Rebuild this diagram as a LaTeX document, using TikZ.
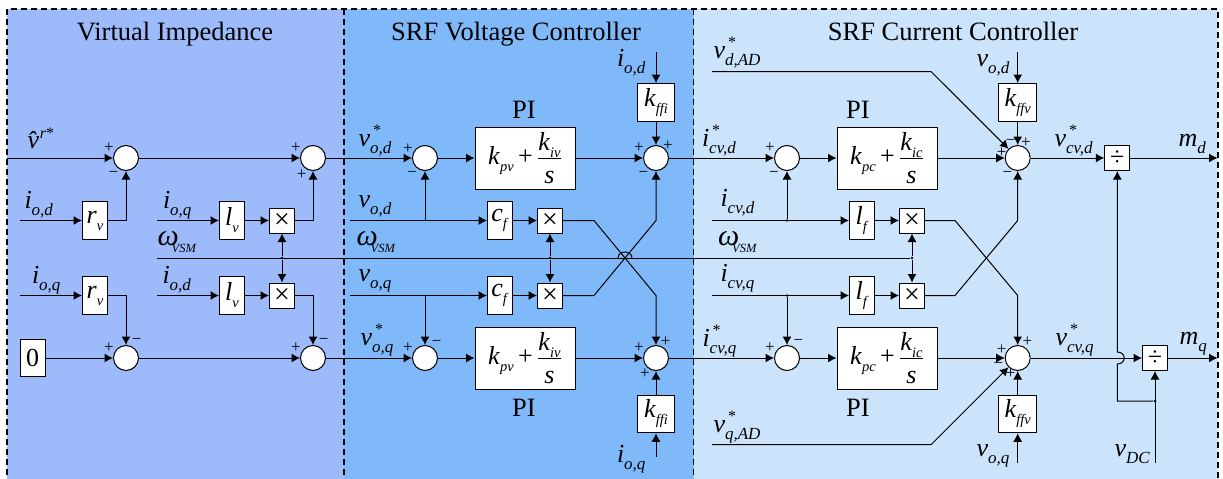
\documentclass[tikz,border=0pt]{standalone}
\usepackage{fontspec}
\setmainfont{Liberation Serif}
\usetikzlibrary{arrows.meta, positioning}
\definecolor{panelvi}{RGB}{157,187,250}
\definecolor{panelvc}{RGB}{128,185,250}
\definecolor{panelcc}{RGB}{204,227,252}
\newcommand{\subs}[1]{\raisebox{-7pt}{\fontsize{17}{17}\selectfont\textit{#1}}}
\newcommand{\subm}[1]{\raisebox{-7pt}{\fontsize{14.5}{14.5}\selectfont\textit{#1}}}
\newcommand{\symb}[2]{\textit{#1}\subs{#2}}
\newcommand{\symbst}[2]{\textit{#1}\makebox[0pt][l]{\hspace{3pt}\raisebox{11pt}{\fontsize{16}{16}\selectfont *}}\subs{#2}}
\newcommand{\omvsm}{{\fontsize{30}{30}\selectfont\textit{ω}}\hspace{-7pt}\raisebox{-7pt}{\fontsize{12.5}{12.5}\selectfont\textit{VSM}}}
\newcommand{\pifrac}[2]{\textit{k}\subm{#1}\,+\,$\frac{\hbox{\rule[-3pt]{0pt}{3pt}\textit{k}\subm{#2}}}{\hbox{\rule{0pt}{24pt}\textit{s}}}$}
\tikzset{
	sumnode/.style={circle, draw, fill=white, minimum size=25pt, inner sep=0pt}, %summing junctions
	gainbox/.style={rectangle, draw, fill=white, minimum width=25pt, minimum height=37.5pt, inner sep=0pt, font=\fontsize{26}{26}\selectfont},
	mulbox/.style={rectangle, draw, fill=white, minimum size=25pt, inner sep=0pt, font=\fontsize{28}{28}\selectfont},
	kbox/.style={gainbox, minimum width=37.5pt},
	pibox/.style={rectangle, draw, fill=white, minimum width=100pt, minimum height=62pt, inner sep=0pt, font=\fontsize{26}{26}\selectfont},
	lab/.style={anchor=base west, inner sep=0pt, font=\fontsize{26}{26}\selectfont},
	titlelab/.style={anchor=base, inner sep=0pt, font=\fontsize{26.5}{26.5}\selectfont},
	signlab/.style={inner sep=0pt, font=\fontsize{17}{17}\selectfont},
	dotnode/.style={circle, fill=black, minimum size=2.6pt, inner sep=0pt},
	panel/.style={draw=black, line width=1.3pt, dash pattern=on 6pt off 4pt},
}
\begin{document}
\begin{tikzpicture}[->,>={Latex[length=8.5pt,width=9pt]},x=1pt,y=-1pt,line width=1pt,node distance=50pt]
	\useasboundingbox (0,0) rectangle (1223,479);
	% panels
	\fill[white] (0,0) rectangle (1223,479);
	\fill[panelvi] (7,9) rectangle (344,485);
	\fill[panelvc] (344,9) rectangle (693.5,485);
	\fill[panelcc] (693.5,9) rectangle (1218,485);
	\draw[panel,-] (7,485) -- (7,9) -- (1218,9) -- (1218,485);
	\draw[panel,-] (344,9) -- (344,485);
	\draw[panel,-] (693.5,9) -- (693.5,485);
	\node[titlelab] (tvi) at (175,40) {Virtual Impedance};
	\node[titlelab] (tvc) at (516,40) {SRF Voltage Controller};
	\node[titlelab] (tcc) at (953,40) {SRF Current Controller};

	% virtual impedance
	\coordinate (vrin) at (7,158);
	\node[sumnode] (sia) at (126,158) {};
	\node[sumnode] (sib) [right of=sia, node distance=187pt] {};
	\node[sumnode] (sic) at (126,358) {};
	\node[sumnode] (sid) [right of=sic, node distance=187pt] {};
	\node[gainbox] (rvd) at (95,220.5) {\textit{r}\subm{v}};
	\node[gainbox] (lvd) [right of=rvd, node distance=137pt] {\textit{l}\subm{v}};
	\node[mulbox] (mvd) [right of=lvd] {×};
	\node[gainbox] (rvq) at (95,295.5) {\textit{r}\subm{v}};
	\node[gainbox] (lvq) [right of=rvq, node distance=137pt] {\textit{l}\subm{v}};
	\node[mulbox] (mvq) [right of=lvq] {×};
	\node[gainbox] (zero) at (32.5,358) {0};
	\coordinate (iaa) at (20,220.5);
	\coordinate (iab) at (157,220.5);
	\coordinate (iac) at (20,295.5);
	\coordinate (iad) at (157,295.5);
	\node[lab] (tvr) at (27,148) {\textit{\^v}\hspace{-9pt}\raisebox{10pt}{\fontsize{16}{16}\selectfont\textit{r}*}};
	\node[lab] (tia) at (24,208) {\symb{i}{o,d}};
	\node[lab] (tib) at (162.5,208) {\symb{i}{o,q}};
	\node[lab] (tic) at (31.5,283) {\symb{i}{o,q}};
	\node[lab] (tid) at (162,283) {\symb{i}{o,d}};
	\node[lab] (twa) at (157,245) {\omvsm};

	% voltage controller
	\node[sumnode] (sva) at (425,158) {};
	\node[pibox] (piv) at (525,158) {\pifrac{pv}{iv}};
	\node[sumnode] (svb) at (656,158) {};
	\node[kbox] (kfa) at (656,102.3) {\textit{k}\subm{ffi}};
	\node[gainbox] (cfd) at (500,220.5) {\textit{c}\subm{f}};
	\node[mulbox] (mcd) [right of=cfd] {×};
	\node[gainbox] (cfq) at (500,295.5) {\textit{c}\subm{f}};
	\node[mulbox] (mcq) [right of=cfq] {×};
	\node[sumnode] (svc) at (425,358) {};
	\node[pibox] (pivq) at (525,358) {\pifrac{pv}{iv}};
	\node[sumnode] (svd) at (656,358) {};
	\node[kbox] (kfb) at (656,414) {\textit{k}\subm{ffi}};
	\coordinate (iva) at (350,220.5);
	\coordinate (ivb) at (350,295.5);
	\coordinate (jva) at (425,220.5);
	\coordinate (jvb) at (425,295.5);
	\coordinate (ifa) at (656,52);
	\coordinate (ifb) at (656,457);
	\coordinate (xaa) at (594,220.5);
	\coordinate (xab) at (656,295.5);
	\coordinate (xba) at (594,295.5);
	\coordinate (xbb) at (656,220.5);
	\node[lab] (tva) at (358,146.7) {\symbst{v}{o,d}};
	\node[lab] (tvb) at (358,207.5) {\symb{v}{o,d}};
	\node[lab] (twb) at (356,245) {\omvsm};
	\node[lab] (tvc2) at (358,281.7) {\symb{v}{o,q}};
	\node[lab] (tvd) at (360,345) {\symbst{v}{o,q}};
	\node[lab] (tie) at (616.5,66.7) {\symb{i}{o,d}};
	\node[lab] (tif) at (616.5,462.7) {\symb{i}{o,q}};
	\node[titlelab] (tpa) at (524,118) {PI};
	\node[titlelab] (tpb) at (524,416.7) {PI};

	% current controller
	\node[sumnode] (sca) at (787,158) {};
	\node[pibox] (pic) at (887,158) {\pifrac{pc}{ic}};
	\node[sumnode] (scb) at (1017.7,158) {};
	\node[kbox] (kva) at (1017.7,102.3) {\textit{k}\subm{ffv}};
	\node[gainbox] (lfd) at (862,220.5) {\textit{l}\subm{f}};
	\node[mulbox] (mfd) [right of=lfd] {×};
	\node[gainbox] (lfq) at (862,295.5) {\textit{l}\subm{f}};
	\node[mulbox] (mfq) [right of=lfq] {×};
	\node[sumnode] (scc) at (787,358) {};
	\node[pibox] (picq) at (887,358) {\pifrac{pc}{ic}};
	\node[sumnode] (scd) at (1017.7,358) {};
	\node[kbox] (kvb) at (1017.7,414) {\textit{k}\subm{ffv}};
	\node[mulbox, font=\fontsize{26}{26}\selectfont] (dva) at (1117.3,158) {÷};
	\node[mulbox, font=\fontsize{26}{26}\selectfont] (dvb) at (1155,358) {÷};
	\node[dotnode] (jca) at (787,220.5) {};
	\node[dotnode] (jcb) at (787,295.5) {};
	\node[dotnode] (jdc) at (1155,401) {};
	\coordinate (ica) at (712,220.5);
	\coordinate (icb) at (712,295.5);
	\coordinate (ada) at (712,71.5);
	\coordinate (adb) at (931,71.5);
	\coordinate (aqa) at (712,444.7);
	\coordinate (aqb) at (931,444.7);
	\coordinate (ivc) at (1017.7,52);
	\coordinate (ivd) at (1017.7,463);
	\coordinate (vdc) at (1155,463);
	\coordinate (mda) at (1217.5,158);
	\coordinate (mqa) at (1217.5,358);
	\coordinate (xca) at (955,220.5);
	\coordinate (xcb) at (1017.7,295.5);
	\coordinate (xda) at (955,295.5);
	\coordinate (xdb) at (1017.7,220.5);
	\coordinate (cda) at (1117.3,401);
	\coordinate (cdb) at (1117.3,364);
	\coordinate (cdc) at (1117.3,352);
	\node[lab] (tig) at (701.5,146.7) {\symbst{i}{cv,d}};
	\node[lab] (tih) at (720,206.7) {\symb{i}{cv,d}};
	\node[lab] (twc) at (717.5,245) {\omvsm};
	\node[lab] (tii) at (720,281.7) {\symb{i}{cv,q}};
	\node[lab] (tij) at (702,346) {\symbst{i}{cv,q}};
	\node[lab] (tve) at (713,58) {\symbst{v}{d,AD}};
	\node[lab] (tvf) at (713,432.7) {\symbst{v}{q,AD}};
	\node[lab] (tvg) at (976,66) {\symb{v}{o,d}};
	\node[lab] (tvh) at (976,456.5) {\symb{v}{o,q}};
	\node[lab] (tvi2) at (1054,146.7) {\symbst{v}{cv,d}};
	\node[lab] (tvj) at (1055,345) {\symbst{v}{cv,q}};
	\node[lab] (tvk) at (1114,456.7) {\textit{v}\subs{DC}};
	\node[lab] (tma) at (1178,146.7) {\symb{m}{d}};
	\node[lab] (tmb) at (1179,344) {\symb{m}{q}};
	\node[titlelab] (tpc) at (858,118) {PI};
	\node[titlelab] (tpd) at (858,416.7) {PI};

	% omega line
	\node[dotnode] (jwa) at (282,258) {};
	\node[dotnode] (jwb) at (550,258) {};
	\node[dotnode] (jwc) at (912,258) {};
	\coordinate (wst) at (157,258);
	\coordinate (hpa) at (618,258);
	\coordinate (hpb) at (632,258);
	\draw[-] (wst) -- (jwc);
	\draw[-] (hpa) .. controls (618,250) and (632,250) .. (hpb);
	\path (jwa) edge (mvd.south) (jwa) edge (mvq.north);
	\path (jwb) edge (mcd.south) (jwb) edge (mcq.north);
	\path (jwc) edge (mfd.south) (jwc) edge (mfq.north);

	% virtual impedance wires
	\path (vrin) edge (sia) (sia) edge (sib) (sib) edge (sva);
	\path (zero) edge (sic) (sic) edge (sid) (sid) edge (svc);
	\path (iaa) edge (rvd) (iac) edge (rvq) (iab) edge (lvd) (iad) edge (lvq);
	\path (lvd) edge (mvd) (lvq) edge (mvq);
	\draw (rvd.east) -| (sia.south);
	\draw (rvq.east) -| (sic.north);
	\draw (mvd.east) -| (sib.south);
	\draw (mvq.east) -| (sid.north);

	% voltage controller wires
	\path (sva) edge (piv) (piv) edge (svb) (svb) edge (sca);
	\path (svc) edge (pivq) (pivq) edge (svd) (svd) edge (scc);
	\path (iva) edge (cfd) (ivb) edge (cfq) (cfd) edge (mcd) (cfq) edge (mcq);
	\path (jva) edge (sva.south) (jvb) edge (svc.north);
	\path (ifa) edge (kfa.north) (kfa) edge (svb.north);
	\path (ifb) edge (kfb.south) (kfb) edge (svd.south);
	\draw (mcd.east) -- (xaa) -- (xab) -- (svd.north);
	\draw (mcq.east) -- (xba) -- (xbb) -- (svb.south);

	% current controller wires
	\path (sca) edge (pic) (pic) edge (scb) (scb) edge (dva) (dva) edge (mda);
	\path (scc) edge (picq) (picq) edge (scd) (scd) edge (dvb) (dvb) edge (mqa);
	\path (ica) edge (lfd) (icb) edge (lfq) (lfd) edge (mfd) (lfq) edge (mfq);
	\path (jca) edge (sca.south) (jcb) edge (scc.north);
	\path (ivc) edge (kva.north) (kva) edge (scb.north);
	\path (ivd) edge (kvb.south) (kvb) edge (scd.south);
	\path (vdc) edge (dvb.south);
	\draw (mfd.east) -- (xca) -- (xcb) -- (scd.north);
	\draw (mfq.east) -- (xda) -- (xdb) -- (scb.south);
	\draw (ada) -- (adb) -- (scb.north west);
	\draw (aqa) -- (aqb) -- (scd.south west);
	\draw (jdc) -- (cda) -- (cdb) .. controls (1126.5,364) and (1126.5,352) .. (cdc) -- (dva.south);

	% signs
	\node[signlab] (sga) at (109,148) {+};
	\node[signlab] (sgb) at (113.5,174.5) {−};
	\node[signlab] (sgc) at (296,148) {+};
	\node[signlab] (sgd) at (301.7,174.5) {+};
	\node[signlab] (sge) at (109,348) {+};
	\node[signlab] (sgf) at (136.7,341.7) {−};
	\node[signlab] (sgg) at (296,348) {+};
	\node[signlab] (sgh) at (323.7,341.7) {−};
	\node[signlab] (sgi) at (408,149) {+};
	\node[signlab] (sgj) at (412,174) {−};
	\node[signlab] (sgk) at (639,148) {+};
	\node[signlab] (sgl) at (668,145.3) {+};
	\node[signlab] (sgm) at (643.3,174) {−};
	\node[signlab] (sgn) at (408,347.7) {+};
	\node[signlab] (sgo) at (436.7,343.3) {−};
	\node[signlab] (sgp) at (639,347.7) {+};
	\node[signlab] (sgq) at (665.7,341.7) {+};
	\node[signlab] (sgr) at (645,374) {+};
	\node[signlab] (sgs) at (770,148) {+};
	\node[signlab] (sgt) at (774,174) {−};
	\node[signlab] (sgu) at (770,347.7) {+};
	\node[signlab] (sgv) at (798.5,342) {−};
	\node[signlab] (sgw) at (1001.7,153) {+};
	\node[signlab] (sgx) at (1010.7,142) {−};
	\node[signlab] (sgy) at (1026,142.7) {+};
	\node[signlab] (sgz) at (1007.3,174.3) {−};
	\node[signlab] (sha) at (1001.7,350) {+};
	\node[signlab] (shb) at (1027.3,341.7) {+};
	\node[signlab] (shc) at (998.3,365) {−};
	\node[signlab] (shd) at (1010.7,374) {+};
\end{tikzpicture}
\end{document}
